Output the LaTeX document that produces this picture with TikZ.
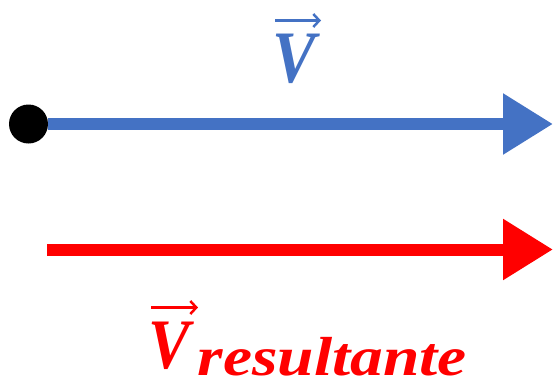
\documentclass[tikz,border=0pt]{standalone}
\usepackage{fontspec}
\usepackage{graphicx}
\newfontfamily\vecfont{Liberation Serif}
\usetikzlibrary{arrows.meta}
\definecolor{vblue}{HTML}{4472C4}
\definecolor{vred}{HTML}{FF0000}
\tikzset{
  vecline/.style={line width=12pt, -{Triangle[length=50pt,width=58pt]}},
  veclabel/.style={inner sep=0pt},
  overarrow/.style={line width=3pt, -{Straight Barb[length=6pt,width=13pt,line width=2.5pt]}}
}
\begin{document}
\begin{tikzpicture}[x=1pt,y=-1pt]
\useasboundingbox (0,0) rectangle (553,383);
\node[circle, fill=black, minimum size=39pt, inner sep=0pt] (o) at (28.5,124) {};
\coordinate (bt) at (553,124);
\coordinate (rs) at (47,249.5);
\coordinate (rt) at (553,249.5);
\draw[vecline, vblue] (o) -- (bt);
\draw[vecline, vred] (rs) -- (rt);
% blue label
\node[veclabel, vblue, anchor=base, font=\fontsize{74}{80}\selectfont\vecfont\bfseries\itshape] (vl) at (294,82) {\scalebox{0.88}[1]{V}};
\coordinate (vla) at (275,20.5);
\coordinate (vlb) at (321,20.5);
\draw[overarrow, vblue] (vla) -- (vlb);
% red label
\node[veclabel, vred, anchor=base west, font=\fontsize{71}{80}\selectfont\vecfont\bfseries\itshape] (rl) at (148,368) {\scalebox{0.88}[1]{V}\kern8pt\raisebox{-7pt}[\height][0pt]{\scalebox{1.19}[1]{\fontsize{55}{60}\selectfont resultante}}};
\coordinate (rla) at (151,307.5);
\coordinate (rlb) at (198,307.5);
\draw[overarrow, vred] (rla) -- (rlb);
\end{tikzpicture}
\end{document}
